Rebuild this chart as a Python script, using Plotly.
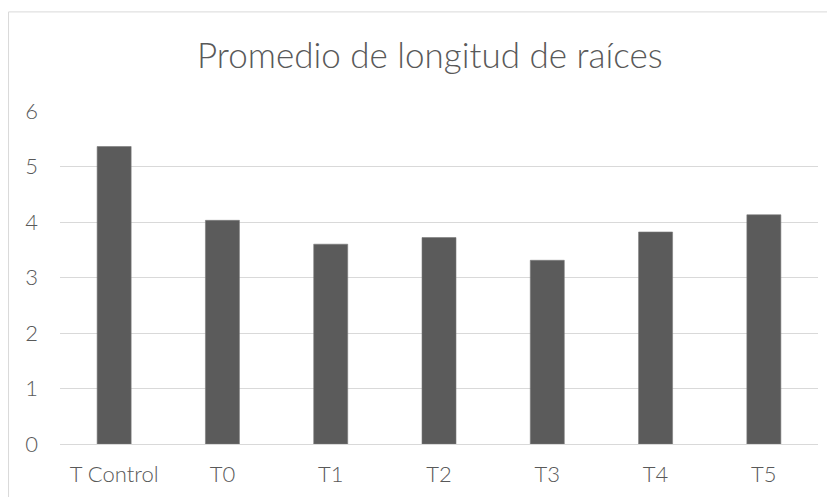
import plotly.graph_objects as go

categories = ["T Control", "T0", "T1", "T2", "T3", "T4", "T5"]
values = [5.36, 4.03, 3.60, 3.72, 3.31, 3.82, 4.13]
y_ticks = [0, 1, 2, 3, 4, 5, 6]

# the page body adds an 8px offset, so the figure is drawn 8px smaller
# and every position below is in figure coordinates (screen - 8)
W, H = 827, 489
L, R, T, B = 52, 16.5, 103, 53.3
pw, ph = W - L - R, H - T - B

fig = go.Figure(go.Bar(
    x=categories, y=values, width=0.314,
    marker=dict(color="#5b5b5b", line=dict(color="#7a7a7a", width=0.6)),
))

def px(x):
    return (x - L) / pw

def py(y):
    return (H - B - y) / ph

tickfont = dict(size=22, color="#595959", family="Lato, sans-serif", weight=300)

fig.update_layout(
    width=W, height=H,
    margin=dict(l=L, r=R, t=T, b=B),
    paper_bgcolor="white", plot_bgcolor="white",
    showlegend=False,
    font=dict(family="Lato, 'Open Sans', sans-serif", color="#595959", size=22),
    title=dict(text="Promedio de longitud de raíces", x=0.51, xanchor="center",
               y=1 - 48 / H, yanchor="middle",
               font=dict(size=35, color="#595959", family="Lato, sans-serif", weight=300)),
    bargap=0.686,
    xaxis=dict(showgrid=False, showline=False, ticks="", ticklabelstandoff=15,
               tickfont=tickfont, automargin=False),
    yaxis=dict(range=[0, 6], tickvals=y_ticks, showgrid=True, gridcolor="#d9d9d9",
               gridwidth=1, zeroline=True, zerolinecolor="#d9d9d9", zerolinewidth=1,
               showline=False, ticks="", ticklabelstandoff=21,
               tickfont=tickfont, automargin=False),
    shapes=[dict(type="rect", xref="paper", yref="paper",
                 x0=px(0.5), x1=px(W + 10), y0=py(H + 10), y1=py(4),
                 line=dict(color="#d9d9d9", width=1), fillcolor="rgba(0,0,0,0)",
                 layer="below")],
)

fig.write_html("out.html")
